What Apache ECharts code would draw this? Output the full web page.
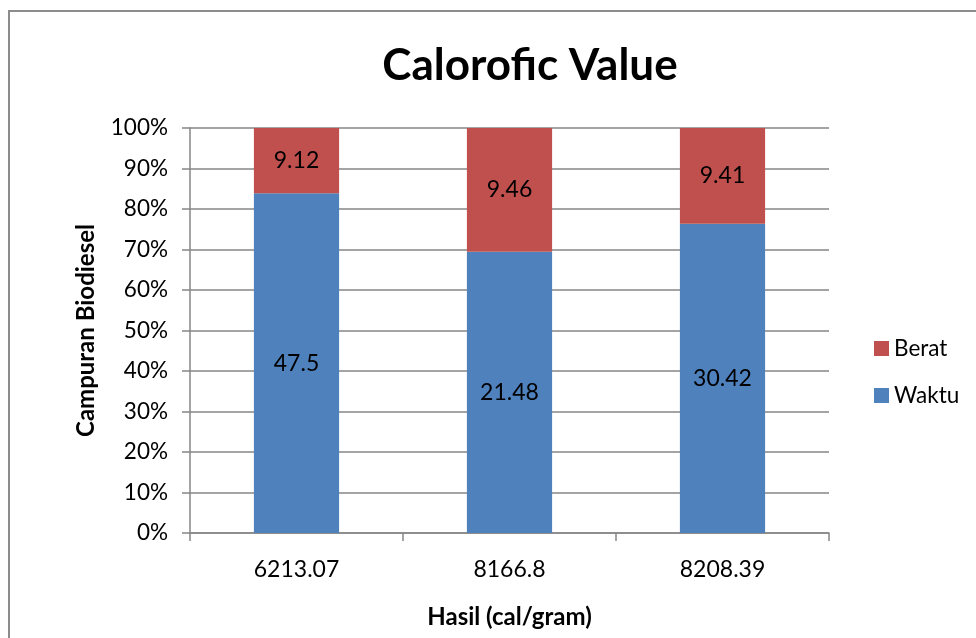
<!DOCTYPE html>
<html>
<head>
<meta charset="utf-8">
<script src="https://cdn.jsdelivr.net/npm/echarts@6/dist/echarts.min.js"></script>
<style>
html,body{margin:0;padding:0;background:#fff;}
#frame{position:absolute;left:8px;top:10px;width:976px;height:640px;border-left:2px solid #8c8c8c;border-top:2px solid #8c8c8c;}
#c{position:absolute;left:0;top:0;width:976px;height:638px;}
</style>
</head>
<body>
<div id="frame"></div>
<div id="c"></div>
<script>
const categories = ['6213.07', '8166.8', '8208.39'];
const waktu = [47.5, 21.48, 30.42];
const berat = [9.12, 9.46, 9.41];
const yTicks = [0, 10, 20, 30, 40, 50, 60, 70, 80, 90, 100];

const totals = waktu.map((v, i) => v + berat[i]);
const waktuPct = waktu.map((v, i) => ({ value: v / totals[i] * 100, raw: v }));
const beratPct = berat.map((v, i) => ({ value: v / totals[i] * 100, raw: v }));

const FONT = 'Lato';
const chart = echarts.init(document.getElementById('c'), null, { renderer: 'canvas' });
chart.setOption({
  backgroundColor: 'transparent',
  animation: false,
  title: {
    text: 'Calorofic Value',
    left: 525, top: 39, textAlign: 'center',
    textStyle: { fontFamily: FONT, fontWeight: 'bold', fontSize: 44, color: '#000' }
  },
  legend: {
    orient: 'vertical',
    left: 869, top: 332,
    itemWidth: 15, itemHeight: 15, itemGap: 24,
    icon: 'rect',
    data: ['Berat', 'Waktu'],
    textStyle: { fontFamily: FONT, fontSize: 22.5, color: '#000' }
  },
  grid: { left: 190, right: 147, top: 128, bottom: 105 },
  xAxis: {
    type: 'category',
    data: categories,
    name: 'Hasil (cal/gram)',
    nameLocation: 'middle',
    nameGap: 72,
    nameTextStyle: { fontFamily: FONT, fontWeight: 'bold', fontSize: 24, color: '#000' },
    axisLine: { lineStyle: { color: '#868686', width: 1.5 } },
    axisTick: { show: true, alignWithLabel: false, length: 8, lineStyle: { color: '#868686', width: 1.5 } },
    axisLabel: { fontFamily: FONT, fontSize: 23, color: '#000', margin: 25 }
  },
  yAxis: {
    type: 'value',
    min: 0, max: 100, interval: 10,
    name: 'Campuran Biodiesel',
    nameLocation: 'middle',
    nameGap: 92,
    nameTextStyle: { fontFamily: FONT, fontWeight: 'bold', fontSize: 24, color: '#000' },
    axisLine: { show: true, lineStyle: { color: '#868686', width: 1.5 } },
    axisTick: { show: true, inside: false, length: 8, lineStyle: { color: '#868686', width: 1.5 } },
    axisLabel: {
      fontFamily: FONT, fontSize: 22.5, color: '#000', margin: 22,
      formatter: v => yTicks.includes(v) ? v + '%' : ''
    },
    splitLine: { lineStyle: { color: '#868686', width: 1.5 } }
  },
  series: [
    {
      name: 'Waktu', type: 'bar', stack: 'total', barWidth: '40%',
      data: waktuPct,
      itemStyle: { color: '#4F81BD' },
      label: { show: true, position: 'inside', fontFamily: FONT, fontSize: 23, color: '#000',
        formatter: p => String(p.data.raw) }
    },
    {
      name: 'Berat', type: 'bar', stack: 'total', barWidth: '40%',
      data: beratPct,
      itemStyle: { color: '#C0504D' },
      label: { show: true, position: 'inside', fontFamily: FONT, fontSize: 23, color: '#000',
        formatter: p => String(p.data.raw) }
    }
  ]
});
</script>
</body>
</html>
